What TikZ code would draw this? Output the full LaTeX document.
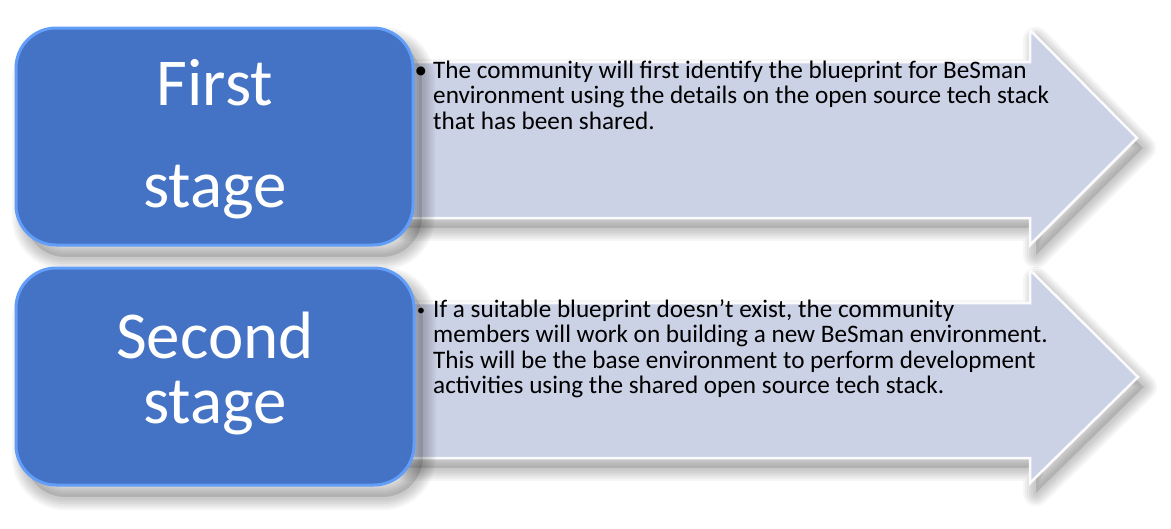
\documentclass[tikz,border=0pt]{standalone}
\usepackage{fontspec}
\setmainfont{Carlito}
\definecolor{stageblue}{RGB}{68,114,196}
\definecolor{glowblue}{RGB}{98,158,248}
\definecolor{arrowfill}{RGB}{204,210,230}
\tikzset{
  x=1pt,y=-1pt,
  stagebox/.style={fill=stageblue,draw=glowblue,line width=3pt,rounded corners=40pt},
  arrowshape/.style={fill=arrowfill,draw=white!92!arrowfill,line width=2.5pt,line join=miter},
  bigtxt/.style={text=white,font=\fontsize{67}{67}\selectfont,inner sep=0pt,anchor=base},
  smalltxt/.style={text=black,font=\fontsize{25.2}{25.5}\selectfont,inner sep=0pt,anchor=base west,align=left},
  bullettxt/.style={text=black,font=\fontsize{25.2}{25.5}\selectfont,inner sep=0pt,anchor=base},
}
\newcommand\softshadow[1]{%
  \foreach \w in {26,22,18,14,10,6}{\draw[black,opacity=0.035,line width=\w pt,line join=round] #1;}
  \fill[black,opacity=0.12] #1;}
\begin{document}
\begin{tikzpicture}
\fill[white] (0,0) rectangle (1171,528);
\useasboundingbox (0,0) rectangle (1171,528);
% ---------- row 1 arrow ----------
\begin{scope}[shift={(6,10)}]
\softshadow{(400,62) -- (1030,62) -- (1030,30) -- (1137,138) -- (1030,245) -- (1030,218) -- (400,218) -- cycle}
\end{scope}
\draw[arrowshape] (400,62) -- (1030,62) -- (1030,30) -- (1137,138) -- (1030,245) -- (1030,218) -- (400,218) -- cycle;
% ---------- row 2 arrow ----------
\begin{scope}[shift={(6,10)}]
\softshadow{(400,303) -- (1030,303) -- (1030,270) -- (1138,377) -- (1030,483) -- (1030,458) -- (400,458) -- cycle}
\end{scope}
\draw[arrowshape] (400,303) -- (1030,303) -- (1030,270) -- (1138,377) -- (1030,483) -- (1030,458) -- (400,458) -- cycle;
% ---------- stage boxes ----------
\begin{scope}[shift={(9,12)}]
\softshadow{[rounded corners=40pt] (16,28) rectangle (413,245)}
\softshadow{[rounded corners=40pt] (16,268) rectangle (414,485)}
\end{scope}
\draw[stagebox] (16,28) rectangle (413,245);
\draw[stagebox] (16,268) rectangle (414,485);
% ---------- big texts ----------
\node[bigtxt] (s1a) at (215,105) {First};
\node[bigtxt] (s1b) at (215,207) {stage};
\node[bigtxt] (s2a) at (215,358) {Second};
\node[bigtxt] (s2b) at (215,423) {stage};
% ---------- bullet texts ----------
\node[bullettxt] (b1) at (421,78) {•};
\node[smalltxt] (t1) at (433,129) {The community will first identify the blueprint for BeSman\\environment using the details on the open source tech stack\\that has been shared.};
\node[bullettxt,font=\fontsize{16}{16}\selectfont] (b2) at (421,315) {•};
\node[smalltxt] (t2) at (433,393.5) {If a suitable blueprint doesn’t exist, the community\\members will work on building a new BeSman environment.\\This will be the base environment to perform development\\activities using the shared open source tech stack.};
\end{tikzpicture}
\end{document}
